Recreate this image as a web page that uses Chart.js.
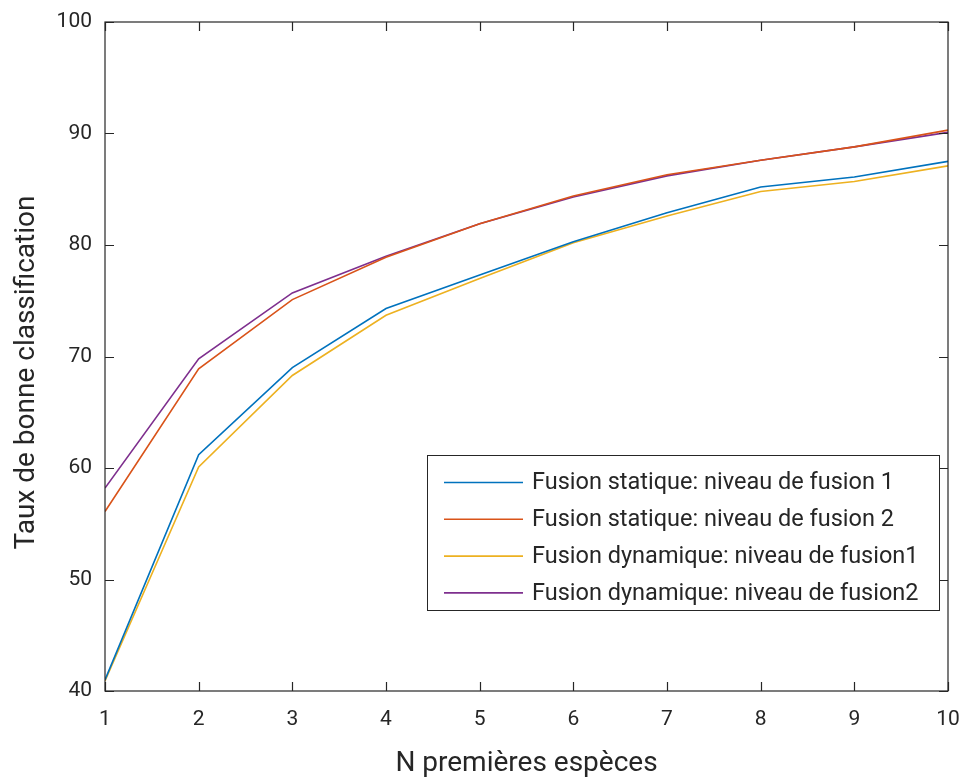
<!DOCTYPE html>
<html>
<head>
<meta charset="utf-8">
<script src="https://cdn.jsdelivr.net/npm/chart.js@4.4.0/dist/chart.umd.min.js"></script>
<style>
  html, body { margin: 0; padding: 0; background: #ffffff; }
  #wrap { width: 964px; height: 778px; position: relative; }
</style>
</head>
<body>
<div id="wrap"><canvas id="c" width="964" height="778"></canvas></div>
<script>
// ---- data ----
const categories = [1, 2, 3, 4, 5, 6, 7, 8, 9, 10];
const seriesNames = [
  "Fusion statique: niveau de fusion 1",
  "Fusion statique: niveau de fusion 2",
  "Fusion dynamique: niveau de fusion1",
  "Fusion dynamique: niveau de fusion2"
];
const staticLevel1  = [41.0, 61.2, 69.0, 74.3, 77.3, 80.3, 82.9, 85.2, 86.1, 87.5];
const staticLevel2  = [56.1, 68.9, 75.1, 78.9, 81.9, 84.4, 86.3, 87.6, 88.8, 90.3];
const dynamicLevel1 = [40.9, 60.1, 68.3, 73.7, 77.0, 80.2, 82.6, 84.8, 85.7, 87.1];
const dynamicLevel2 = [58.2, 69.8, 75.7, 79.0, 81.9, 84.3, 86.2, 87.6, 88.8, 90.1];
const xTicks = [1, 2, 3, 4, 5, 6, 7, 8, 9, 10];
const yTicks = [40, 50, 60, 70, 80, 90, 100];
const xTitle = "N premières espèces";
const yTitle = "Taux de bonne classification";

const seriesValues = [staticLevel1, staticLevel2, dynamicLevel1, dynamicLevel2];
const seriesColors = ["#0072BD", "#D95319", "#EDB120", "#7E2F8E"];

const AX = "#262626";
const FONT = "Roboto, 'Liberation Sans', sans-serif";

const datasets = seriesValues.map((vals, i) => ({
  label: seriesNames[i],
  data: categories.map((c, j) => ({ x: c, y: vals[j] })),
  borderColor: seriesColors[i],
  backgroundColor: seriesColors[i],
  borderWidth: 1.6,
  pointRadius: 0,
  tension: 0,
  fill: false
}));

const framePlugin = {
  id: 'frame',
  afterDatasetsDraw(chart) {
    const { ctx, chartArea: a, scales } = chart;
    ctx.save();
    ctx.strokeStyle = AX;
    ctx.lineWidth = 1.2;
    ctx.strokeRect(a.left, a.top, a.right - a.left, a.bottom - a.top);
    const tl = 9;
    ctx.beginPath();
    xTicks.forEach(v => {
      const px = Math.round(scales.x.getPixelForValue(v)) + 0.5;
      ctx.moveTo(px, a.bottom); ctx.lineTo(px, a.bottom - tl);
      ctx.moveTo(px, a.top); ctx.lineTo(px, a.top + tl);
    });
    yTicks.forEach(v => {
      const py = Math.round(scales.y.getPixelForValue(v)) + 0.5;
      ctx.moveTo(a.left, py); ctx.lineTo(a.left + tl, py);
      ctx.moveTo(a.right, py); ctx.lineTo(a.right - tl, py);
    });
    ctx.stroke();

    // y axis title
    ctx.save();
    ctx.translate(27, (a.top + a.bottom) / 2 + 16);
    ctx.rotate(-Math.PI / 2);
    ctx.font = "28px " + FONT;
    ctx.fillStyle = AX;
    ctx.textAlign = "center";
    ctx.textBaseline = "middle";
    ctx.fillText(yTitle, 0, 0);
    ctx.restore();

    // legend box
    const lx = 427, ly = 455, lw = 512, lh = 155;
    ctx.fillStyle = "#ffffff";
    ctx.fillRect(lx, ly, lw, lh);
    ctx.strokeStyle = AX;
    ctx.lineWidth = 1;
    ctx.strokeRect(lx + 0.5, ly + 0.5, lw, lh);
    ctx.font = "23.5px " + FONT;
    ctx.textBaseline = "middle";
    ctx.textAlign = "left";
    chart.data.datasets.forEach((ds, i) => {
      const y = ly + 27.5 + i * 36.8;
      ctx.strokeStyle = ds.borderColor;
      ctx.lineWidth = 1.6;
      ctx.beginPath();
      ctx.moveTo(lx + 17, y); ctx.lineTo(lx + 96, y);
      ctx.stroke();
      ctx.fillStyle = AX;
      ctx.fillText(ds.label, lx + 105, y + 1);
    });
    ctx.restore();
  }
};

new Chart(document.getElementById('c'), {
  type: 'line',
  data: { datasets },
  options: {
    responsive: false,
    animation: false,
    devicePixelRatio: 1,
    layout: { padding: { left: 0, right: 16, top: 22, bottom: 0 } },
    plugins: { legend: { display: false }, tooltip: { enabled: false } },
    scales: {
      x: {
        type: 'linear', min: 1, max: 10,
        afterBuildTicks(s) { s.ticks = xTicks.map(v => ({ value: v })); },
        afterFit(s) { s.height = 87; s.paddingLeft = 0; s.paddingRight = 0; },
        grid: { display: false, drawTicks: false },
        border: { display: false },
        ticks: { color: AX, font: { family: FONT, size: 21 }, padding: 16, maxRotation: 0 },
        title: { display: true, text: xTitle, color: AX, font: { family: FONT, size: 28, lineHeight: 1.0 }, padding: { top: 0, bottom: 0 } }
      },
      y: {
        type: 'linear', min: 40, max: 100,
        afterBuildTicks(s) { s.ticks = yTicks.map(v => ({ value: v })); },
        afterFit(s) { s.width = 105; s.paddingTop = 0; s.paddingBottom = 0; },
        grid: { display: false, drawTicks: false },
        border: { display: false },
        ticks: { color: AX, font: { family: FONT, size: 21 }, padding: 13 },
        title: { display: false }
      }
    }
  },
  plugins: [framePlugin]
});
</script>
</body>
</html>
